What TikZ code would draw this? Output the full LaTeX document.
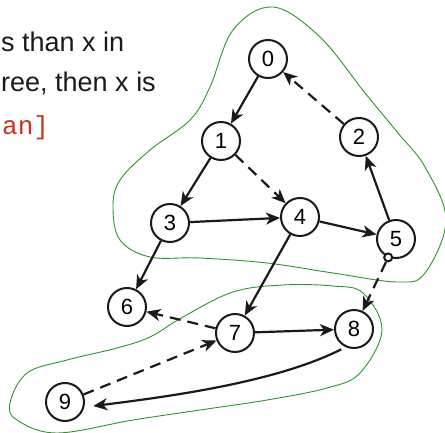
\documentclass[tikz,border=0pt]{standalone}
\usepackage{fontspec}
\setmainfont{Liberation Sans}
\newfontfamily\codefont{Liberation Mono}
\usetikzlibrary{arrows.meta}
\definecolor{ink}{HTML}{1A1A1A}
\definecolor{blobgreen}{HTML}{2A962A}
\definecolor{codered}{HTML}{C8341E}

\begin{document}
\begin{tikzpicture}[x=1pt,y=-1pt,
    vertex/.style={circle,draw=ink,line width=2pt,fill=white,
                   minimum size=38pt,inner sep=0pt,font=\fontsize{22}{22}\selectfont},
    port/.style={circle,draw=ink,line width=2pt,fill=white,
                 minimum size=8pt,inner sep=0pt},
    edge/.style={draw=ink,line width=2.2pt,
                 -{Stealth[length=14pt,width=12pt,inset=4pt]}},
    back/.style={edge,dash pattern=on 11pt off 7pt},
    blob/.style={draw=blobgreen,line width=0.9pt}]
  \useasboundingbox (0,0) rectangle (445,433);
  \clip (0,0) rectangle (445,433);

  % text cut off at the left
  \node[anchor=base west,inner sep=0pt,text=ink,font=\fontsize{27}{30}\selectfont]
    (line1) at (1,52) {s than x in};
  \node[anchor=base west,inner sep=0pt,text=ink,font=\fontsize{27}{30}\selectfont]
    (line2) at (1,92) {ree, then x is};
  \node[anchor=base west,inner sep=0pt,text=codered,font=\codefont\fontsize{26}{30}\selectfont]
    (line3) at (2,135) {an]};

  % regions
  \draw[blob] plot[smooth cycle,tension=0.6] coordinates {
    (273,7) (320,37) (365,93) (398,133) (425,167) (446,220)
    (425,273) (398,282) (333,273) (267,263) (200,258) (150,257)
    (120,240) (113,207) (120,180) (150,150) (190,120) (210,87) (233,30)};
  \draw[blob] plot[smooth cycle,tension=0.6] coordinates {
    (233,292) (283,285) (333,286) (363,293) (382,330) (360,373)
    (327,388) (267,400) (200,410) (133,420) (57,433) (17,420)
    (10,403) (27,373) (67,360) (117,348) (150,337) (183,317)};

  % vertices
  \node[vertex] (n0) at (268,59) {0};
  \node[vertex] (n1) at (221,141) {1};
  \node[vertex] (n2) at (359,137) {2};
  \node[vertex] (n3) at (170,223) {3};
  \node[vertex] (n4) at (300,217) {4};
  \node[vertex] (n5) at (396,239) {5};
  \node[vertex] (n6) at (127,307) {6};
  \node[vertex] (n7) at (235,333) {7};
  \node[vertex] (n8) at (354,329) {8};
  \node[vertex] (n9) at (65,402) {9};
  \node[port] (p5) at (n5.247) {};

  % tree edges
  \draw[edge] (n0) -- (n1);
  \draw[edge] (n1) -- (n3);
  \draw[edge] (n3) -- (n4);
  \draw[edge] (n4) -- (n5);
  \draw[edge] (n5) -- (n2);
  \draw[edge] (n3) -- (n6);
  \draw[edge] (n4) -- (n7);
  \draw[edge] (n7) -- (n8);
  \draw[edge,shorten <=5pt,shorten >=9pt] (n8.245)
    .. controls +(-71,36) and +(79,-10) .. (n9.-15);

  % other edges
  \draw[back] (n2) -- (n0);
  \draw[back] (n1) -- (n4);
  \draw[back] (n7) -- (n6);
  \draw[back] (n9) -- (n7);
  \draw[back] (p5) -- (n8);
\end{tikzpicture}
\end{document}
